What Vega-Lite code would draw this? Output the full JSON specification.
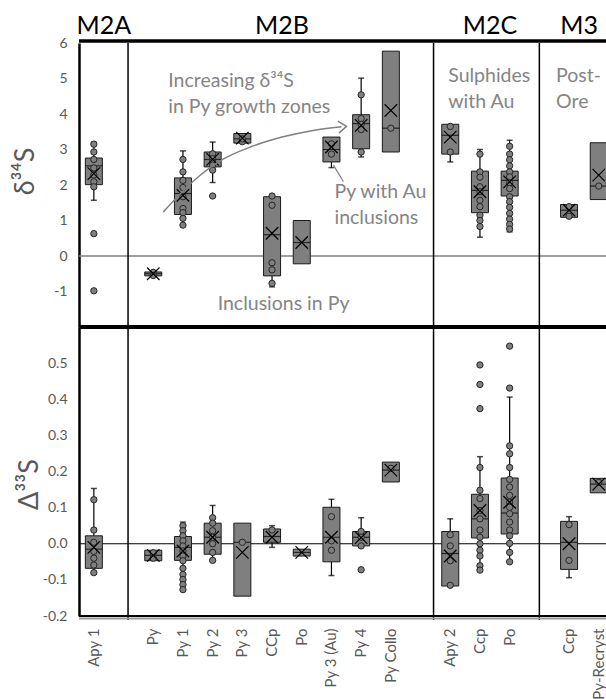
{
  "$schema": "https://vega.github.io/schema/vega-lite/v6.json",
  "padding": {"left": 11, "top": 14, "right": 0, "bottom": 0},
  "spacing": 0,
  "bounds": "flush",
  "config": {
    "font": "Lato",
    "view": {"stroke": null},
    "axis": {"grid": false, "ticks": false, "domain": false, "labelColor": "#595959", "labelFontSize": 14, "titleFontWeight": "normal"}
  },
  "datasets": {
    "box34": [
      {"cat": "Apy 1", "q1": 2.01, "q3": 2.76, "med": 2.54, "mean": 2.32, "lo": 1.57, "hi": 3.2},
      {"cat": "Py", "q1": -0.56, "q3": -0.45, "med": -0.5, "mean": -0.5, "lo": null, "hi": null},
      {"cat": "Py 1", "q1": 1.17, "q3": 2.2, "med": 1.76, "mean": 1.71, "lo": 0.87, "hi": 2.96},
      {"cat": "Py 2", "q1": 2.51, "q3": 2.93, "med": 2.72, "mean": 2.72, "lo": 2.07, "hi": 3.21},
      {"cat": "Py 3", "q1": 3.18, "q3": 3.45, "med": 3.3, "mean": 3.32, "lo": null, "hi": null},
      {"cat": "CCp", "q1": -0.56, "q3": 1.67, "med": 0.6, "mean": 0.64, "lo": -0.87, "hi": null},
      {"cat": "Po~B", "q1": -0.22, "q3": 1.0, "med": 0.38, "mean": 0.38, "lo": null, "hi": null},
      {"cat": "Py 3 (Au)", "q1": 2.65, "q3": 3.35, "med": 3.0, "mean": 3.07, "lo": 2.49, "hi": null},
      {"cat": "Py 4", "q1": 3.02, "q3": 3.98, "med": 3.73, "mean": 3.68, "lo": 2.79, "hi": 5.01},
      {"cat": "Py Collo", "q1": 2.93, "q3": 5.77, "med": 3.6, "mean": 4.1, "lo": null, "hi": null},
      {"cat": "Apy 2", "q1": 2.87, "q3": 3.71, "med": 3.4, "mean": 3.35, "lo": 2.65, "hi": null},
      {"cat": "Ccp~C", "q1": 1.22, "q3": 2.39, "med": 1.85, "mean": 1.81, "lo": 0.53, "hi": 3.0},
      {"cat": "Po~C", "q1": 1.69, "q3": 2.39, "med": 2.13, "mean": 2.09, "lo": 0.68, "hi": 3.26},
      {"cat": "Ccp~3", "q1": 1.09, "q3": 1.45, "med": 1.29, "mean": 1.29, "lo": null, "hi": null},
      {"cat": "Py-Recryst", "q1": 1.59, "q3": 3.19, "med": 1.97, "mean": 2.28, "lo": null, "hi": null}
    ],
    "pts34": [
      {"cat": "Apy 1", "v": 3.15}, {"cat": "Apy 1", "v": 2.93}, {"cat": "Apy 1", "v": 2.72}, {"cat": "Apy 1", "v": 2.48}, {"cat": "Apy 1", "v": 2.28}, {"cat": "Apy 1", "v": 2.09}, {"cat": "Apy 1", "v": 1.95}, {"cat": "Apy 1", "v": 0.63}, {"cat": "Apy 1", "v": -0.98},
      {"cat": "Py", "v": -0.46}, {"cat": "Py", "v": -0.55},
      {"cat": "Py 1", "v": 2.72}, {"cat": "Py 1", "v": 2.37}, {"cat": "Py 1", "v": 2.13}, {"cat": "Py 1", "v": 1.93}, {"cat": "Py 1", "v": 1.67}, {"cat": "Py 1", "v": 1.34}, {"cat": "Py 1", "v": 1.22}, {"cat": "Py 1", "v": 1.06}, {"cat": "Py 1", "v": 0.87},
      {"cat": "Py 2", "v": 2.88}, {"cat": "Py 2", "v": 2.74}, {"cat": "Py 2", "v": 2.65}, {"cat": "Py 2", "v": 2.56}, {"cat": "Py 2", "v": 2.42}, {"cat": "Py 2", "v": 1.69},
      {"cat": "Py 3", "v": 3.22}, {"cat": "Py 3", "v": 3.3},
      {"cat": "CCp", "v": 1.69}, {"cat": "CCp", "v": 1.43}, {"cat": "CCp", "v": -0.19}, {"cat": "CCp", "v": -0.39}, {"cat": "CCp", "v": -0.77},
      {"cat": "Py 3 (Au)", "v": 3.16}, {"cat": "Py 3 (Au)", "v": 2.87},
      {"cat": "Py 4", "v": 4.54}, {"cat": "Py 4", "v": 3.87}, {"cat": "Py 4", "v": 3.71}, {"cat": "Py 4", "v": 3.56}, {"cat": "Py 4", "v": 2.93},
      {"cat": "Py Collo", "v": 3.6},
      {"cat": "Apy 2", "v": 3.65}, {"cat": "Apy 2", "v": 2.93},
      {"cat": "Ccp~C", "v": 2.87}, {"cat": "Ccp~C", "v": 2.37}, {"cat": "Ccp~C", "v": 2.22}, {"cat": "Ccp~C", "v": 1.95}, {"cat": "Ccp~C", "v": 1.81}, {"cat": "Ccp~C", "v": 1.57}, {"cat": "Ccp~C", "v": 1.39}, {"cat": "Ccp~C", "v": 1.15}, {"cat": "Ccp~C", "v": 1.0}, {"cat": "Ccp~C", "v": 0.83},
      {"cat": "Po~C", "v": 3.09}, {"cat": "Po~C", "v": 2.87}, {"cat": "Po~C", "v": 2.71}, {"cat": "Po~C", "v": 2.54}, {"cat": "Po~C", "v": 2.37}, {"cat": "Po~C", "v": 2.23}, {"cat": "Po~C", "v": 2.06}, {"cat": "Po~C", "v": 1.9}, {"cat": "Po~C", "v": 1.67}, {"cat": "Po~C", "v": 1.53}, {"cat": "Po~C", "v": 1.37}, {"cat": "Po~C", "v": 1.2}, {"cat": "Po~C", "v": 1.04}, {"cat": "Po~C", "v": 0.89}, {"cat": "Po~C", "v": 0.76},
      {"cat": "Ccp~3", "v": 1.39}, {"cat": "Ccp~3", "v": 1.12},
      {"cat": "Py-Recryst", "v": 1.97}
    ],
    "box33": [
      {"cat": "Apy 1", "q1": -0.068, "q3": 0.022, "med": -0.015, "mean": -0.01, "lo": -0.08, "hi": 0.153},
      {"cat": "Py", "q1": -0.047, "q3": -0.018, "med": -0.032, "mean": -0.032, "lo": null, "hi": null},
      {"cat": "Py 1", "q1": -0.046, "q3": 0.02, "med": -0.01, "mean": -0.02, "lo": -0.127, "hi": 0.06},
      {"cat": "Py 2", "q1": -0.029, "q3": 0.057, "med": 0.018, "mean": 0.018, "lo": -0.046, "hi": 0.106},
      {"cat": "Py 3", "q1": -0.145, "q3": 0.057, "med": 0.004, "mean": -0.024, "lo": null, "hi": null},
      {"cat": "CCp", "q1": 0.004, "q3": 0.041, "med": 0.02, "mean": 0.018, "lo": -0.01, "hi": 0.05},
      {"cat": "Po~B", "q1": -0.034, "q3": -0.015, "med": -0.024, "mean": -0.024, "lo": null, "hi": null},
      {"cat": "Py 3 (Au)", "q1": -0.05, "q3": 0.101, "med": 0.018, "mean": 0.018, "lo": -0.088, "hi": 0.123},
      {"cat": "Py 4", "q1": -0.006, "q3": 0.034, "med": 0.018, "mean": 0.017, "lo": null, "hi": 0.072},
      {"cat": "Py Collo", "q1": 0.171, "q3": 0.226, "med": 0.204, "mean": 0.204, "lo": null, "hi": null},
      {"cat": "Apy 2", "q1": -0.117, "q3": 0.034, "med": -0.027, "mean": -0.034, "lo": null, "hi": 0.069},
      {"cat": "Ccp~C", "q1": 0.016, "q3": 0.137, "med": 0.069, "mean": 0.092, "lo": -0.073, "hi": 0.241},
      {"cat": "Po~C", "q1": 0.027, "q3": 0.182, "med": 0.085, "mean": 0.115, "lo": -0.05, "hi": 0.406},
      {"cat": "Ccp~3", "q1": -0.071, "q3": 0.062, "med": 0.004, "mean": 0.0, "lo": -0.094, "hi": 0.075},
      {"cat": "Py-Recryst", "q1": 0.141, "q3": 0.181, "med": 0.165, "mean": 0.165, "lo": null, "hi": null}
    ],
    "pts33": [
      {"cat": "Apy 1", "v": 0.122}, {"cat": "Apy 1", "v": 0.038}, {"cat": "Apy 1", "v": 0.004}, {"cat": "Apy 1", "v": -0.021}, {"cat": "Apy 1", "v": -0.04}, {"cat": "Apy 1", "v": -0.059}, {"cat": "Apy 1", "v": -0.08},
      {"cat": "Py", "v": -0.025}, {"cat": "Py", "v": -0.04},
      {"cat": "Py 1", "v": 0.05}, {"cat": "Py 1", "v": 0.036}, {"cat": "Py 1", "v": 0.022}, {"cat": "Py 1", "v": 0.008}, {"cat": "Py 1", "v": -0.006}, {"cat": "Py 1", "v": -0.02}, {"cat": "Py 1", "v": -0.034}, {"cat": "Py 1", "v": -0.047}, {"cat": "Py 1", "v": -0.068}, {"cat": "Py 1", "v": -0.085}, {"cat": "Py 1", "v": -0.099}, {"cat": "Py 1", "v": -0.113}, {"cat": "Py 1", "v": -0.127},
      {"cat": "Py 2", "v": 0.072}, {"cat": "Py 2", "v": 0.057}, {"cat": "Py 2", "v": 0.036}, {"cat": "Py 2", "v": 0.018}, {"cat": "Py 2", "v": 0.0}, {"cat": "Py 2", "v": -0.024}, {"cat": "Py 2", "v": -0.046},
      {"cat": "Py 3", "v": 0.004},
      {"cat": "CCp", "v": 0.038},
      {"cat": "Py 3 (Au)", "v": 0.075}, {"cat": "Py 3 (Au)", "v": 0.008}, {"cat": "Py 3 (Au)", "v": -0.018},
      {"cat": "Py 4", "v": 0.034}, {"cat": "Py 4", "v": 0.018}, {"cat": "Py 4", "v": -0.006}, {"cat": "Py 4", "v": -0.072},
      {"cat": "Py Collo", "v": 0.209},
      {"cat": "Apy 2", "v": 0.025}, {"cat": "Apy 2", "v": -0.006}, {"cat": "Apy 2", "v": -0.047}, {"cat": "Apy 2", "v": -0.115},
      {"cat": "Ccp~C", "v": 0.495}, {"cat": "Ccp~C", "v": 0.441}, {"cat": "Ccp~C", "v": 0.374}, {"cat": "Ccp~C", "v": 0.211}, {"cat": "Ccp~C", "v": 0.148}, {"cat": "Ccp~C", "v": 0.125}, {"cat": "Ccp~C", "v": 0.092}, {"cat": "Ccp~C", "v": 0.069}, {"cat": "Ccp~C", "v": 0.038}, {"cat": "Ccp~C", "v": 0.018}, {"cat": "Ccp~C", "v": 0.0}, {"cat": "Ccp~C", "v": -0.018}, {"cat": "Ccp~C", "v": -0.034}, {"cat": "Ccp~C", "v": -0.061}, {"cat": "Ccp~C", "v": -0.073},
      {"cat": "Po~C", "v": 0.547}, {"cat": "Po~C", "v": 0.431}, {"cat": "Po~C", "v": 0.271}, {"cat": "Po~C", "v": 0.249}, {"cat": "Po~C", "v": 0.211}, {"cat": "Po~C", "v": 0.178}, {"cat": "Po~C", "v": 0.157}, {"cat": "Po~C", "v": 0.134}, {"cat": "Po~C", "v": 0.115}, {"cat": "Po~C", "v": 0.101}, {"cat": "Po~C", "v": 0.083}, {"cat": "Po~C", "v": 0.06}, {"cat": "Po~C", "v": 0.038}, {"cat": "Po~C", "v": 0.022}, {"cat": "Po~C", "v": 0.001}, {"cat": "Po~C", "v": -0.024}, {"cat": "Po~C", "v": -0.05},
      {"cat": "Ccp~3", "v": 0.053}, {"cat": "Ccp~3", "v": -0.046},
      {"cat": "Py-Recryst", "v": 0.17}
    ],
    "curve": [
      {"cat": "Py", "v": 1.24}, {"cat": "Py 1", "v": 2.1}, {"cat": "Py 2", "v": 2.72}, {"cat": "Py 3", "v": 3.09}, {"cat": "CCp", "v": 3.35}, {"cat": "Po~B", "v": 3.53}, {"cat": "Py 3 (Au)", "v": 3.64}
    ],
    "groups": [
      {"cat": "Apy 1", "t": "M2A"}, {"cat": "CCp", "t": "M2B"}, {"cat": "Ccp~C", "t": "M2C"}, {"cat": "Ccp~3", "t": "M3"}
    ]
  },
  "vconcat": [
    {
      "width": 528,
      "height": 284,
      "layer": [
        {
          "data": {"values": [{}]},
          "mark": {"type": "rule", "color": "#808080", "strokeWidth": 1.5},
          "encoding": {
            "y": {"datum": 0, "type": "quantitative", "scale": {"domain": [-2, 6], "nice": false, "zero": false},
              "axis": {"title": "δ³⁴S", "values": [-1, 0, 1, 2, 3, 4, 5, 6], "labelExpr": "(datum.value < 0 ? '-' : '') + abs(datum.value)", "domain": true, "domainColor": "black", "domainWidth": 2.5, "labelPadding": 12, "titleColor": "#595959", "titleFontSize": 27, "titleX": -54, "titleY": 128, "titleAngle": -90, "titleAlign": "center", "titleBaseline": "middle"}}
          }
        },
        {
          "data": {"values": [{}]},
          "mark": {"type": "rule", "color": "black", "strokeWidth": 1.5, "xOffset": 4.5},
          "encoding": {"x": {"datum": "~1", "type": "nominal", "axis": null, "scale": {"type": "band", "domain": ["Apy 1", "~1", "Py", "Py 1", "Py 2", "Py 3", "CCp", "Po~B", "Py 3 (Au)", "Py 4", "Py Collo", "~2", "Apy 2", "Ccp~C", "Po~C", "~3", "Ccp~3", "Py-Recryst"], "range": [0, 534.6], "paddingInner": 0, "paddingOuter": 0}}}
        },
        {
          "data": {"values": [{}]},
          "mark": {"type": "rule", "color": "black", "strokeWidth": 1.5, "xOffset": 13},
          "encoding": {"x": {"datum": "~2", "type": "nominal", "axis": null}}
        },
        {
          "data": {"values": [{}]},
          "mark": {"type": "rule", "color": "black", "strokeWidth": 1.5},
          "encoding": {"x": {"datum": "~3", "type": "nominal", "axis": null}}
        },
        {
          "data": {"values": [{}]},
          "mark": {"type": "rule", "color": "black", "strokeWidth": 3.5, "yOffset": -2},
          "encoding": {"y": {"datum": 6, "type": "quantitative"}}
        },
        {
          "data": {"values": [{}]},
          "mark": {"type": "rule", "color": "black", "strokeWidth": 4},
          "encoding": {"y": {"datum": -2, "type": "quantitative"}}
        },
        {
          "data": {"name": "box34"},
          "mark": {"type": "rule", "color": "black", "strokeWidth": 1.2},
          "encoding": {"x": {"field": "cat", "type": "nominal", "axis": null}, "y": {"field": "lo", "type": "quantitative"}, "y2": {"field": "q1"}}
        },
        {
          "data": {"name": "box34"},
          "mark": {"type": "rule", "color": "black", "strokeWidth": 1.2},
          "encoding": {"x": {"field": "cat", "type": "nominal", "axis": null}, "y": {"field": "hi", "type": "quantitative"}, "y2": {"field": "q3"}}
        },
        {
          "data": {"name": "box34"},
          "mark": {"type": "tick", "color": "black", "size": 6, "thickness": 1.5},
          "encoding": {"x": {"field": "cat", "type": "nominal", "axis": null}, "y": {"field": "lo", "type": "quantitative"}}
        },
        {
          "data": {"name": "box34"},
          "mark": {"type": "tick", "color": "black", "size": 6, "thickness": 1.5},
          "encoding": {"x": {"field": "cat", "type": "nominal", "axis": null}, "y": {"field": "hi", "type": "quantitative"}}
        },
        {
          "data": {"name": "box34"},
          "mark": {"type": "bar", "width": 17, "fill": "#7f7f7f", "stroke": "#1a1a1a", "strokeWidth": 1},
          "encoding": {"x": {"field": "cat", "type": "nominal", "axis": null}, "y": {"field": "q1", "type": "quantitative"}, "y2": {"field": "q3"}}
        },
        {
          "data": {"name": "box34"},
          "mark": {"type": "tick", "color": "black", "size": 17, "thickness": 1.2},
          "encoding": {"x": {"field": "cat", "type": "nominal", "axis": null}, "y": {"field": "med", "type": "quantitative"}}
        },
        {
          "data": {"name": "pts34"},
          "mark": {"type": "point", "shape": "circle", "filled": true, "size": 40, "fill": "#7f7f7f", "stroke": "#262626", "strokeWidth": 1, "opacity": 1},
          "encoding": {"x": {"field": "cat", "type": "nominal", "axis": null}, "y": {"field": "v", "type": "quantitative"}}
        },
        {
          "data": {"name": "box34"},
          "mark": {"type": "point", "shape": "M-1,-1L1,1M1,-1L-1,1", "filled": false, "size": 156, "stroke": "black", "strokeWidth": 1.2, "opacity": 1},
          "encoding": {"x": {"field": "cat", "type": "nominal", "axis": null}, "y": {"field": "mean", "type": "quantitative"}}
        },
        {
          "data": {"name": "curve"},
          "mark": {"type": "line", "interpolate": "monotone", "color": "#808080", "strokeWidth": 1.5, "xOffset": 10},
          "encoding": {"x": {"field": "cat", "type": "nominal", "axis": null, "sort": null}, "y": {"field": "v", "type": "quantitative"}}
        },
        {
          "data": {"values": [{"cat": "Py 3 (Au)", "v": 3.65}]},
          "mark": {"type": "point", "shape": "M-1,-0.75L0,0L-1,0.75", "filled": false, "size": 256, "stroke": "#808080", "strokeWidth": 1.5, "opacity": 1, "xOffset": 15, "angle": -5},
          "encoding": {"x": {"field": "cat", "type": "nominal", "axis": null}, "y": {"field": "v", "type": "quantitative"}}
        },
        {
          "data": {"values": [{"cat": "Py 3 (Au)", "a": 2.56, "b": 2.09}]},
          "mark": {"type": "rule", "color": "#808080", "strokeWidth": 1.2, "xOffset": 2, "x2Offset": 12},
          "encoding": {"x": {"field": "cat", "type": "nominal", "axis": null}, "x2": {"field": "cat"}, "y": {"field": "a", "type": "quantitative"}, "y2": {"field": "b"}}
        },
        {
          "data": {"values": [{"cat": "Py", "v": 4.94, "t": "Increasing δ³⁴S"}, {"cat": "Py", "v": 4.21, "t": "in Py growth zones"}]},
          "mark": {"type": "text", "align": "left", "baseline": "middle", "dx": 15, "fontSize": 19.5, "color": "#858585"},
          "encoding": {"x": {"field": "cat", "type": "nominal", "axis": null}, "y": {"field": "v", "type": "quantitative"}, "text": {"field": "t"}}
        },
        {
          "data": {"values": [{"cat": "Py 3 (Au)", "v": 1.81, "t": "Py with Au"}, {"cat": "Py 3 (Au)", "v": 1.07, "t": "inclusions"}]},
          "mark": {"type": "text", "align": "left", "baseline": "middle", "dx": 3, "fontSize": 19.5, "color": "#858585"},
          "encoding": {"x": {"field": "cat", "type": "nominal", "axis": null}, "y": {"field": "v", "type": "quantitative"}, "text": {"field": "t"}}
        },
        {
          "data": {"values": [{"cat": "Py 2", "v": -1.35, "t": "Inclusions in Py"}]},
          "mark": {"type": "text", "align": "left", "baseline": "middle", "dx": 5, "fontSize": 19.5, "color": "#858585"},
          "encoding": {"x": {"field": "cat", "type": "nominal", "axis": null}, "y": {"field": "v", "type": "quantitative"}, "text": {"field": "t"}}
        },
        {
          "data": {"values": [{"cat": "Apy 2", "v": 5.06, "t": "Sulphides"}, {"cat": "Apy 2", "v": 4.33, "t": "with Au"}]},
          "mark": {"type": "text", "align": "left", "baseline": "middle", "dx": -2, "fontSize": 19.5, "color": "#858585"},
          "encoding": {"x": {"field": "cat", "type": "nominal", "axis": null}, "y": {"field": "v", "type": "quantitative"}, "text": {"field": "t"}}
        },
        {
          "data": {"values": [{"cat": "Ccp~3", "v": 5.06, "t": "Post-"}, {"cat": "Ccp~3", "v": 4.33, "t": "Ore"}]},
          "mark": {"type": "text", "align": "left", "baseline": "middle", "dx": -13, "fontSize": 19.5, "color": "#858585"},
          "encoding": {"x": {"field": "cat", "type": "nominal", "axis": null}, "y": {"field": "v", "type": "quantitative"}, "text": {"field": "t"}}
        },
        {
          "data": {"name": "groups"},
          "mark": {"type": "text", "align": "center", "baseline": "alphabetic", "dx": 10, "dy": -9, "fontSize": 25, "color": "black"},
          "encoding": {"x": {"field": "cat", "type": "nominal", "axis": null}, "y": {"datum": 6, "type": "quantitative"}, "text": {"field": "t"}}
        }
      ]
    },
    {
      "width": 528,
      "height": 289,
      "layer": [
        {
          "data": {"values": [{}]},
          "mark": {"type": "rule", "color": "black", "strokeWidth": 1},
          "encoding": {
            "y": {"datum": 0, "type": "quantitative", "scale": {"domain": [-0.2, 0.6], "nice": false, "zero": false},
              "axis": {"title": "Δ³³S", "values": [-0.2, -0.1, 0, 0.1, 0.2, 0.3, 0.4, 0.5], "labelExpr": "(datum.value < 0 ? '-' : '') + format(abs(datum.value), '.1f')", "domain": true, "domainColor": "black", "domainWidth": 2.5, "labelPadding": 12, "titleColor": "#595959", "titleFontSize": 27, "titleX": -50, "titleY": 157, "titleAngle": -90, "titleAlign": "center", "titleBaseline": "middle"}}
          }
        },
        {
          "data": {"values": [{}]},
          "mark": {"type": "rule", "color": "black", "strokeWidth": 1.5, "xOffset": 4.5, "yOffset": 4},
          "encoding": {"x": {"datum": "~1", "type": "nominal", "scale": {"type": "band", "domain": ["Apy 1", "~1", "Py", "Py 1", "Py 2", "Py 3", "CCp", "Po~B", "Py 3 (Au)", "Py 4", "Py Collo", "~2", "Apy 2", "Ccp~C", "Po~C", "~3", "Ccp~3", "Py-Recryst"], "range": [0, 534.6], "paddingInner": 0, "paddingOuter": 0},
              "axis": {"title": null, "labelExpr": "split(datum.label, '~')[0]", "labelAngle": -90, "labelAlign": "right", "labelBaseline": "middle", "labelPadding": 12, "labelFontSize": 15, "labelColor": "#595959"}},
            "y": {"datum": -0.2, "type": "quantitative"}, "y2": {"datum": 0.6}}
        },
        {
          "data": {"values": [{}]},
          "mark": {"type": "rule", "color": "black", "strokeWidth": 1.5, "xOffset": 13, "yOffset": 4},
          "encoding": {"x": {"datum": "~2", "type": "nominal"}, "y": {"datum": -0.2, "type": "quantitative"}, "y2": {"datum": 0.6}}
        },
        {
          "data": {"values": [{}]},
          "mark": {"type": "rule", "color": "black", "strokeWidth": 1.5, "yOffset": 4},
          "encoding": {"x": {"datum": "~3", "type": "nominal"}, "y": {"datum": -0.2, "type": "quantitative"}, "y2": {"datum": 0.6}}
        },
        {
          "data": {"values": [{}]},
          "mark": {"type": "rule", "color": "#9a9a9a", "strokeWidth": 2, "yOffset": 2.5},
          "encoding": {"y": {"datum": -0.2, "type": "quantitative"}}
        },
        {
          "data": {"values": [{}]},
          "mark": {"type": "rule", "color": "black", "strokeWidth": 2},
          "encoding": {"y": {"datum": -0.2, "type": "quantitative"}}
        },
        {
          "data": {"name": "box33"},
          "mark": {"type": "rule", "color": "black", "strokeWidth": 1.2},
          "encoding": {"x": {"field": "cat", "type": "nominal"}, "y": {"field": "lo", "type": "quantitative"}, "y2": {"field": "q1"}}
        },
        {
          "data": {"name": "box33"},
          "mark": {"type": "rule", "color": "black", "strokeWidth": 1.2},
          "encoding": {"x": {"field": "cat", "type": "nominal"}, "y": {"field": "hi", "type": "quantitative"}, "y2": {"field": "q3"}}
        },
        {
          "data": {"name": "box33"},
          "mark": {"type": "tick", "color": "black", "size": 6, "thickness": 1.5},
          "encoding": {"x": {"field": "cat", "type": "nominal"}, "y": {"field": "lo", "type": "quantitative"}}
        },
        {
          "data": {"name": "box33"},
          "mark": {"type": "tick", "color": "black", "size": 6, "thickness": 1.5},
          "encoding": {"x": {"field": "cat", "type": "nominal"}, "y": {"field": "hi", "type": "quantitative"}}
        },
        {
          "data": {"name": "box33"},
          "mark": {"type": "bar", "width": 17, "fill": "#7f7f7f", "stroke": "#1a1a1a", "strokeWidth": 1},
          "encoding": {"x": {"field": "cat", "type": "nominal"}, "y": {"field": "q1", "type": "quantitative"}, "y2": {"field": "q3"}}
        },
        {
          "data": {"name": "box33"},
          "mark": {"type": "tick", "color": "black", "size": 17, "thickness": 1.2},
          "encoding": {"x": {"field": "cat", "type": "nominal"}, "y": {"field": "med", "type": "quantitative"}}
        },
        {
          "data": {"name": "pts33"},
          "mark": {"type": "point", "shape": "circle", "filled": true, "size": 40, "fill": "#7f7f7f", "stroke": "#262626", "strokeWidth": 1, "opacity": 1},
          "encoding": {"x": {"field": "cat", "type": "nominal"}, "y": {"field": "v", "type": "quantitative"}}
        },
        {
          "data": {"name": "box33"},
          "mark": {"type": "point", "shape": "M-1,-1L1,1M1,-1L-1,1", "filled": false, "size": 156, "stroke": "black", "strokeWidth": 1.2, "opacity": 1},
          "encoding": {"x": {"field": "cat", "type": "nominal"}, "y": {"field": "mean", "type": "quantitative"}}
        }
      ]
    }
  ]
}
